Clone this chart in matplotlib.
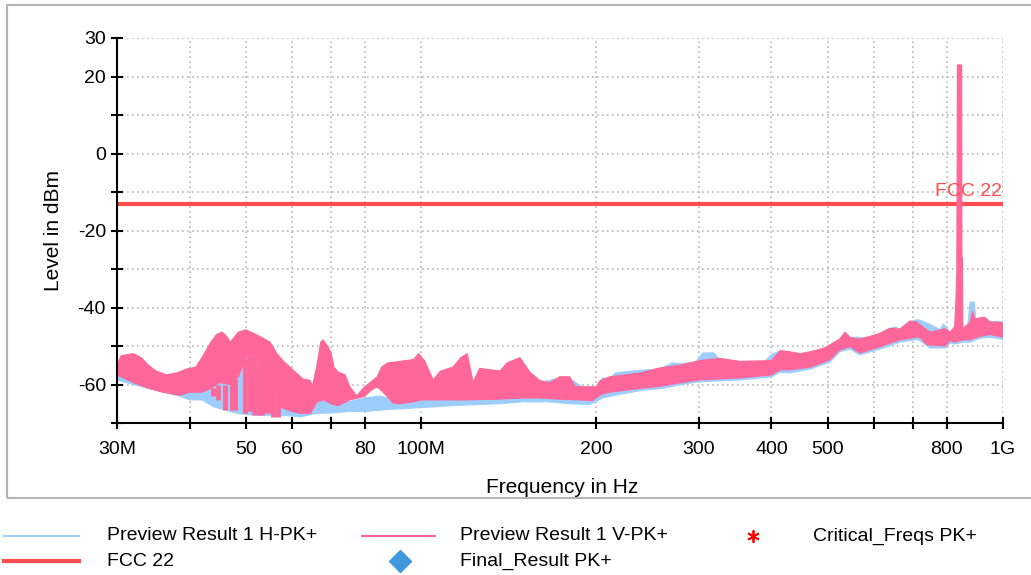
import numpy as np
import matplotlib
matplotlib.use("Agg")
import matplotlib.pyplot as plt
from matplotlib.lines import Line2D
from matplotlib.patches import Rectangle
from matplotlib.ticker import FixedLocator, FixedFormatter, NullLocator

plt.rcParams['font.family'] = ['Liberation Sans', 'DejaVu Sans']

# ---------------- data (MHz, dBm) ----------------
# Preview Result 1V-PK+ : upper / lower envelope
vu_f = [30, 30.5, 32, 33, 34, 35, 36.5, 38, 39.5, 41, 42, 43.5, 44.5, 45.5, 46.3, 47, 48.5, 50, 52, 53.5,
        55, 56.5, 58, 59.5, 61, 62.5, 64.5, 65, 66.2, 67.2, 67.8, 69, 70, 70.8, 72, 74, 75.4, 77.5, 79.4, 81.7,
        84, 85.5, 87.5, 92, 97, 99, 101.5, 104.8, 108, 113.4, 117, 120, 122.8, 126, 136.6, 140.4, 147.8, 153.8, 160, 166.5,
        173, 180, 184, 190, 200, 203, 211, 238, 257, 278, 301, 326, 353, 400, 414, 430, 448, 466, 494, 504,
        524, 535, 546, 568, 591, 614, 639, 665, 692, 711, 720, 749, 795, 811, 826, 829, 833, 835, 849, 850,
        852, 853, 860, 877, 887, 895, 912, 930, 950, 975, 1000]
vu_v = [-55, -52.5, -52, -53, -55, -56.5, -57.5, -57, -56, -55.5, -53, -49, -47, -46.4, -47.5, -49, -46.4, -45.8, -47, -48,
        -49, -52, -54, -55.5, -57, -58.5, -59, -60.5, -55, -49, -48.4, -50, -51.8, -55.5, -56.8, -57.5, -60.6, -63, -61, -59.5,
        -58, -55.5, -54.4, -54, -53.5, -52, -54, -58.8, -56.5, -55.5, -53, -52, -59.4, -55.8, -56.5, -54.4, -53, -56.8, -59, -59.5,
        -58, -58, -60.5, -60.6, -60.6, -59, -58, -57, -55.7, -55, -53.8, -53.2, -54, -53.8, -51.2, -51.5, -52, -51.5, -50.5, -49.7,
        -48.2, -46.4, -47.8, -48.2, -47.5, -46.7, -45.4, -45.6, -43.5, -43.8, -44.5, -46.4, -45.5, -46.4, -45, -40, -31, 23, 23, -27,
        -27, -45.5, -45, -44, -41, -43, -42.7, -42.5, -43.8, -43.8, -44]
vl_f = [30, 32, 34, 36, 38.5, 40, 42, 43.5, 45, 47, 48.5, 50, 51.5, 53.5, 55, 56.5, 57.5, 60, 62, 64.5,
        66.2, 68, 70, 72, 75.4, 78, 80, 82, 84, 86, 89.5, 92, 97, 100, 110, 120, 136, 150, 160, 173,
        187, 197, 203, 211, 238, 257, 278, 301, 353, 400, 414, 430, 466, 504, 524, 546, 568, 614, 665, 711,
        720, 740, 795, 811, 826, 853, 877, 912, 950, 1000]
vl_v = [-57.5, -59.5, -61, -62, -62.8, -62, -62, -61, -59.5, -60, -58, -53, -52.5, -54, -55, -62, -66, -67, -67.5, -67.5,
        -64.5, -64, -65, -65.5, -64, -63.5, -63, -61.5, -60.6, -62, -64.8, -65, -64.5, -64, -64, -64, -63.8, -63.5, -63.5, -63.8,
        -64, -64.2, -62.7, -62, -61, -60.5, -59.6, -58.8, -58.3, -57.5, -56.2, -56.2, -55.5, -53.6, -51, -50.2, -51.8, -50.2, -48.4, -47.7,
        -47.7, -49.7, -50, -48.6, -49, -48.4, -48.4, -47.5, -47, -47.7]
# downward spikes of the V trace
sp_f = [43.9, 44.8, 46.0, 47.3, 47.9, 49.8, 50.8, 51.6, 52.6, 53.3, 54.1, 55.0, 55.6, 56.7]
sp_top = [-61, -60, -60, -59, -58.5, -53, -52.5, -52.5, -53, -54, -54, -55, -57, -60]
sp_min = [-63, -64, -66.5, -66.5, -66.5, -67.5, -67, -68, -68, -68, -67.5, -67.5, -68.5, -68.5]

# Preview Result 1H-PK+ : upper / lower envelope
hu_f = [30, 34, 38.5, 41.7, 43.9, 45, 46.2, 47.5, 49, 50, 51, 52.3, 53.5, 55, 56.5, 58, 60, 62, 65, 67,
        70, 75, 80, 85, 90, 100, 110, 120, 136, 150, 160, 173, 180, 190, 200, 205, 211, 216, 238, 257,
        270, 280, 296, 305, 318, 326, 353, 390, 400, 414, 430, 448, 466, 494, 504, 524, 535, 546, 560, 568,
        591, 614, 639, 654, 665, 692, 711, 720, 752, 780, 790, 811, 826, 832, 836, 853, 870, 878, 893, 897,
        912, 950, 1000]
hu_v = [-57, -60.3, -61.8, -61.5, -60.5, -59, -59.5, -57.5, -56.5, -51.5, -50.3, -51, -54.5, -57, -60.5, -62.5, -63.5, -64.5, -64.5, -63,
        -64, -64.5, -63.5, -63, -64, -63, -62.8, -62.5, -62, -61.5, -59.5, -58.3, -58.5, -60.8, -60.5, -58.3, -58.5, -57, -56.3, -56,
        -54.4, -54.6, -54.2, -51.8, -51.8, -53.5, -54, -54, -52.2, -51.3, -51.8, -52.3, -51.8, -50.8, -50, -48.5, -46.8, -48, -47.7, -47.8,
        -47.8, -47, -45.5, -45, -45.7, -43.7, -43.2, -43.3, -44.5, -45.8, -44.2, -46.5, -45.2, -41.5, -47, -45.8, -44.5, -38.6, -38.6, -43,
        -42.9, -43.6, -43.6]
hl_f = [30, 32, 34, 36, 38.5, 40, 42, 44, 46, 48, 50, 52, 55, 58, 62, 66, 70, 75, 80, 86,
        92, 100, 110, 120, 136, 150, 165, 180, 195, 205, 220, 240, 260, 280, 300, 330, 355, 400, 414, 430,
        466, 504, 524, 546, 568, 614, 665, 711, 720, 749, 795, 811, 826, 853, 877, 912, 950, 1000]
hl_v = [-58.8, -60, -61, -62, -63, -64, -64, -65.8, -66.6, -67.4, -67.8, -68, -68, -68, -68.4, -67.5, -67.4, -67, -67, -66.6,
        -66.3, -66, -65.6, -65.3, -65, -64.5, -64.5, -65, -65.2, -63.5, -62.5, -61.5, -61, -60, -59.3, -59, -58.8, -58, -56.8, -57,
        -56, -54.2, -51.5, -50.8, -52.3, -50.8, -49, -48.3, -48.6, -50.5, -50.5, -49.2, -49.5, -49, -49, -48, -47.7, -48.3]

# FCC 22 limit
limit_f = [30, 1000]
limit_v = [-13, -13]

# axes ticks
x_ticks = [30, 40, 50, 60, 70, 80, 100, 200, 300, 400, 500, 600, 700, 800, 1000]
x_labels = ['30M', '', '50', '60', '', '80', '100M', '200', '300', '400', '500', '', '', '800', '1G']
y_ticks = [-70, -60, -50, -40, -30, -20, -10, 0, 10, 20, 30]
y_labels = ['', '-60', '', '-40', '', '-20', '', '0', '', '20', '30']

# ---------------- colours ----------------
C_H = '#9dcdfb'
C_V = '#ff6699'
C_LIM = '#ff4d4d'

MHZ = 1e6
W, H = 1031, 575
fig = plt.figure(figsize=(W / 100, H / 100), dpi=100)
ax = fig.add_axes([117 / W, 1 - 423 / H, (1003 - 117) / W, (423 - 38) / H])

# H trace band
hx = np.concatenate([np.array(hu_f), np.array(hl_f)[::-1]]) * MHZ
hy = np.concatenate([np.array(hu_v), np.array(hl_v)[::-1]])
ax.fill(hx, hy, color=C_H, lw=0.8, zorder=2.5)

# FCC limit
ax.plot(np.array(limit_f) * MHZ, limit_v, color=C_LIM, lw=3, zorder=2.8, solid_capstyle='butt')

# V trace band
vx = np.concatenate([np.array(vu_f), np.array(vl_f)[::-1]]) * MHZ
vy = np.concatenate([np.array(vu_v), np.array(vl_v)[::-1]])
ax.fill(vx, vy, color=C_V, lw=0.8, zorder=3)
ax.vlines(np.array(sp_f) * MHZ, sp_min, sp_top, color=C_V, lw=3.5, zorder=3)

ax.text(1000 * MHZ * 0.997, -12.2, 'FCC 22', color=C_LIM, fontsize=14, ha='right', va='bottom', zorder=4)

ax.set_xscale('log')
ax.set_xlim(30 * MHZ, 1000 * MHZ)
ax.set_ylim(-70, 30)
ax.xaxis.set_major_locator(FixedLocator([t * MHZ for t in x_ticks]))
ax.xaxis.set_major_formatter(FixedFormatter(x_labels))
ax.xaxis.set_minor_locator(NullLocator())
ax.yaxis.set_major_locator(FixedLocator(y_ticks))
ax.yaxis.set_major_formatter(FixedFormatter(y_labels))
ax.yaxis.set_minor_locator(NullLocator())

for s in ['top', 'right']:
    ax.spines[s].set_visible(False)
for s in ['left', 'bottom']:
    ax.spines[s].set_linewidth(1.5)
    ax.spines[s].set_zorder(5)

ax.tick_params(axis='both', direction='inout', length=9, width=1.5, labelsize=14, color='black')
ax.tick_params(axis='x', pad=8.5)
ax.tick_params(axis='y', pad=3.5)
ax.grid(True, color='#b8b8b8', linestyle=(0, (1, 2)), lw=1.2)
ax.set_axisbelow(True)

ax.set_ylabel('Level in dBm', fontsize=15)
ax.yaxis.set_label_coords(-0.061, 0.5)
ax.set_xlabel('Frequency in Hz', fontsize=15, va='top')
ax.xaxis.set_label_coords(0.502, -0.143)

# outer border
fig.add_artist(Rectangle((7 / W, 1 - 498 / H), 1.2, (498 - 5) / H, transform=fig.transFigure,
                         fill=False, edgecolor='#b4b4b4', lw=1.5))

# legend (manual)
def fy(p):
    return 1 - p / H

def fx(p):
    return p / W

r1, r2 = 536, 561
fig.add_artist(Line2D([fx(4), fx(79)], [fy(r1), fy(r1)], color=C_H, lw=1.5, transform=fig.transFigure))
fig.text(fx(107), fy(r1), 'Preview Result 1 H-PK+', fontsize=14, va='center', ha='left')
fig.add_artist(Line2D([fx(362), fx(435)], [fy(r1), fy(r1)], color=C_V, lw=1.5, transform=fig.transFigure))
fig.text(fx(460), fy(r1), 'Preview Result 1 V-PK+', fontsize=14, va='center', ha='left')
fig.add_artist(Line2D([fx(753)], [fy(r1)], color='red', marker=(6, 2, 0), markersize=9, mew=1.3,
                      linestyle='none', transform=fig.transFigure))
fig.text(fx(813), fy(r1), 'Critical_Freqs PK+', fontsize=14, va='center', ha='left')
fig.add_artist(Line2D([fx(4), fx(79)], [fy(r2), fy(r2)], color=C_LIM, lw=3, transform=fig.transFigure))
fig.text(fx(107), fy(r2), 'FCC 22', fontsize=14, va='center', ha='left')
fig.add_artist(Line2D([fx(400)], [fy(r2)], color='#4098dc', marker='D', markersize=11,
                      linestyle='none', transform=fig.transFigure))
fig.text(fx(460), fy(r2), 'Final_Result PK+', fontsize=14, va='center', ha='left')

fig.savefig('out.png', dpi=100)
